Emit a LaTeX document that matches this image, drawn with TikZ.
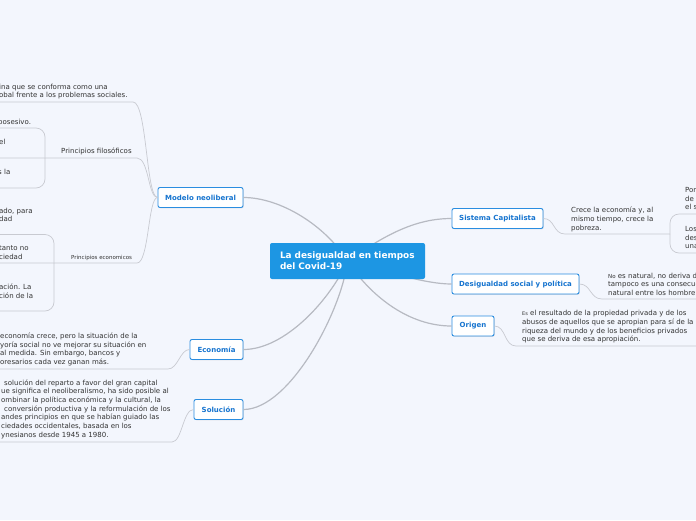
\documentclass[tikz,border=0pt]{standalone}
\usepackage{fontspec}
\setmainfont{DejaVu Sans}
\usetikzlibrary{shadows}
\definecolor{bgpaper}{HTML}{F3F6FD}
\definecolor{rootblue}{HTML}{1D96E3}
\definecolor{boxblue}{HTML}{2A8DE0}
\definecolor{boxtext}{HTML}{1674CF}
\definecolor{linkgray}{HTML}{B7BAC2}
\definecolor{subgray}{HTML}{C8CAD1}
\definecolor{inkgray}{HTML}{333333}
\tikzset{
  rootnode/.style={fill=rootblue, text=white, rounded corners=2pt, align=left,
    font=\fontsize{8.9}{11}\selectfont\bfseries, text width=135pt, inner xsep=10pt,
    minimum width=155pt, minimum height=36pt},
  branch/.style={draw=boxblue, line width=0.9pt, fill=white, rounded corners=2pt,
    text=boxtext, font=\fontsize{7}{8}\selectfont\bfseries, inner sep=0pt,
    minimum height=20pt, drop shadow={shadow xshift=0.8pt, shadow yshift=-0.8pt, opacity=0.18}},
  topic/.style={font=\fontsize{7}{8.7}\selectfont, text=inkgray, align=left,
    anchor=base west, inner sep=0pt},
  rootlink/.style={draw=linkgray, line width=1.2pt},
  sublink/.style={draw=subgray, line width=0.7pt}
}
\begin{document}
\begin{tikzpicture}[x=1pt,y=-1pt]
\useasboundingbox (0,0) rectangle (696,520);
\clip (0,0) rectangle (696,520);
\fill[bgpaper] (0,0) rectangle (696,520);

\coordinate (rc) at (347.5,261);
\node[branch, minimum width=85pt] (modelo) at (200.5,197.5) {Modelo neoliberal};
\node[branch, minimum width=53pt] (economia) at (216.5,349.5) {Economía};
\node[branch, minimum width=49pt] (solucion) at (218.5,409.5) {Solución};
\node[branch, minimum width=91pt] (sistema) at (497.5,218.5) {Sistema Capitalista};
\node[branch, minimum width=127pt] (desig) at (515.5,284) {Desigualdad social y política};
\node[branch, minimum width=42pt] (origen) at (473,326) {Origen};

\draw[rootlink] (rc) .. controls (325,225) and (280,197.5) .. (modelo.east);
\draw[rootlink] (rc) .. controls (330,300) and (285,349.5) .. (economia.east);
\draw[rootlink] (rc) .. controls (342,310) and (290,409.5) .. (solucion.east);
\draw[rootlink] (rc) .. controls (385,235) and (415,218.5) .. (sistema.west);
\draw[rootlink] (rc) .. controls (390,272) and (425,284) .. (desig.west);
\draw[rootlink] (rc) .. controls (372,298) and (410,326) .. (origen.west);

\node[rootnode] (root) at (rc) {La desigualdad en tiempos\\del Covid-19};

% left side
\node[topic] (ideo) at (-1,97.7) {ina que se conforma como una\\obal frente a los problemas sociales.};
\node[topic] (pfil) at (61,153.5) {Principios filosóficos};
\node[topic] (pos) at (-2,124) {posesivo.};
\node[topic] (elx) at (-1,144) {el};
\node[topic] (sla) at (-2,174.5) {s la};
\node[topic, font=\fontsize{5.5}{7}\selectfont] (peco) at (71,259) {Principios economicos};
\node[topic] (ado) at (-1,221.7) {ado, para\\dad};
\node[topic] (tanto) at (-1,259.2) {tanto no\\ciedad};
\node[topic] (acion) at (-1,298.2) {ación. La\\ción de la};
\node[topic] (ecotxt) at (0,364.6) {economía crece, pero la situación de la\\yoría social no ve mejorar su situación en\\al medida. Sin embargo, bancos y\\oresarios cada vez ganan más.};
\node[topic] (soltxt) at (1,437.2) {\hspace{3pt}solución del reparto a favor del gran capital\\ue significa el neoliberalismo, ha sido posible al\\ombinar la política económica y la cultural, la\\\hspace{3pt}conversión productiva y la reformulación de los\\andes principios en que se habían guiado las\\ciedades occidentales, basada en los\\ynesianos desde 1945 a 1980.};

\coordinate (ideo-l) at (-2,102);
\coordinate (ideo-r) at (133,102);
\coordinate (pfil-r) at (137,158);
\coordinate (pfil-k) at (45,158);
\coordinate (pos-l) at (-2,128);
\coordinate (elx-l) at (-2,158);
\coordinate (sla-l) at (-2,188);
\coordinate (peco-r) at (137,263);
\coordinate (peco-k) at (54,263);
\coordinate (ado-l) at (-2,234.5);
\coordinate (tanto-l) at (-2,263);
\coordinate (acion-l) at (-2,311);
\coordinate (eco-r) at (168,369);
\coordinate (eco-l) at (-2,369);
\coordinate (sol-r) at (172,442);
\coordinate (sol-l) at (-2,442);

\draw[sublink] (modelo.west) .. controls (146,197.5) and (147,102) .. (ideo-r) -- (ideo-l);
\draw[sublink] (modelo.west) .. controls (148,197.5) and (149,158) .. (pfil-r) -- (elx-l);
\draw[sublink, rounded corners=9pt] (pfil-k) |- (pos-l);
\draw[sublink, rounded corners=9pt] (pfil-k) |- (sla-l);
\draw[sublink] (modelo.west) .. controls (148,197.5) and (149,263) .. (peco-r) -- (tanto-l);
\draw[sublink, rounded corners=9pt] (peco-k) |- (ado-l);
\draw[sublink, rounded corners=9pt] (peco-k) |- (acion-l);
\draw[sublink] (economia.west) .. controls (180,349.5) and (178,369) .. (eco-r) -- (eco-l);
\draw[sublink] (solucion.west) .. controls (183,409.5) and (182,442) .. (sol-r) -- (sol-l);

% right side
\node[topic] (crece) at (571,230.2) {Crece la economía y, al\\mismo tiempo, crece la\\pobreza.};
\node[topic] (por) at (685,209.7) {Por\\de\\el s};
\node[topic] (los) at (685,248.7) {Los\\des\\una};
\node[topic] (natural) at (608,295.4) {{\fontsize{5.5}{5}\selectfont No} es natural, no deriva d\\tampoco es una consecue\\natural entre los hombre};
\node[topic] (resultado) at (522,341.7) {{\fontsize{5}{5}\selectfont Es} el resultado de la propiedad privada y de los\\abusos de aquellos que se apropian para sí de la\\riqueza del mundo y de los beneficios privados\\que se deriva de esa apropiación.};

\coordinate (crece-l) at (565,234);
\coordinate (crece-k) at (670,234);
\coordinate (por-r) at (700,214);
\coordinate (los-r) at (700,253);
\coordinate (nat-l) at (602,299);
\coordinate (nat-r) at (700,299);
\coordinate (res-l) at (516,346);
\coordinate (res-r) at (700,346);

\draw[sublink] (sistema.east) .. controls (555,218.5) and (553,234) .. (crece-l) -- (crece-k);
\draw[sublink, rounded corners=9pt] (crece-k) |- (por-r);
\draw[sublink, rounded corners=9pt] (crece-k) |- (los-r);
\draw[sublink] (desig.east) .. controls (591,284) and (590,299) .. (nat-l) -- (nat-r);
\draw[sublink] (origen.east) .. controls (506,326) and (504,346) .. (res-l) -- (res-r);
\end{tikzpicture}
\end{document}
